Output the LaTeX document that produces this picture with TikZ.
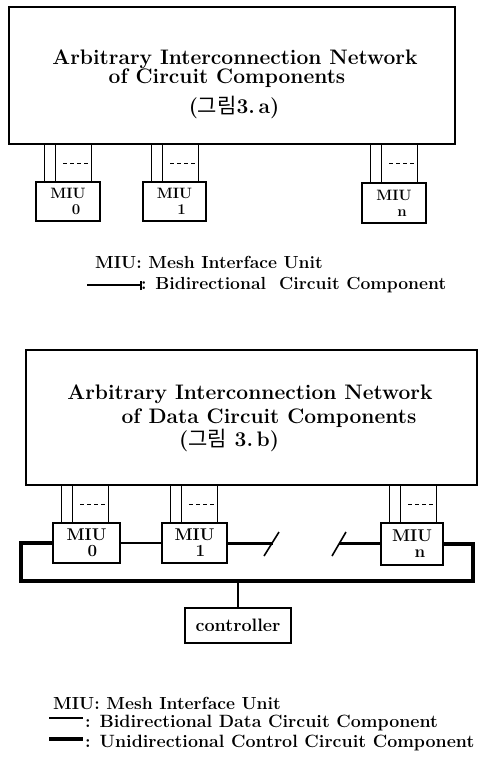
\documentclass[tikz,border=0pt]{standalone}
\usepackage{fontspec}
\usepackage{tikz}
\usetikzlibrary{calc,positioning}
\newfontfamily\cjk{Noto Sans CJK KR}

\begin{document}
\begin{tikzpicture}[x=1pt,y=-1pt,font=\bfseries,
  netbox/.style={draw,line width=1.3pt,inner sep=0pt},
  miubox/.style={draw,line width=1.1pt,inner sep=0pt,align=center},
  boxtext/.style={inner sep=0pt,font=\bfseries\fontsize{21}{23}\selectfont},
  legtext/.style={inner sep=0pt,anchor=west,font=\bfseries\fontsize{17.5}{20}\selectfont},
  link/.style={line width=1.1pt},
  ctrlline/.style={line width=4pt},
  dashline/.style={line width=1pt,dash pattern=on 4pt off 3pt}]
  \useasboundingbox (0,0) rectangle (485,760);
  % upper picture (3.a)
  \node[netbox,minimum width=446pt,minimum height=137pt] (neta) at (232,75.5) {};
  \node[boxtext] (ta1) at (235,59) {Arbitrary Interconnection Network};
  \node[boxtext] (ta2) at (227,78) {of Circuit Components};
  \node[boxtext] (ta3) at (234,107) {({\cjk\mdseries 그림}3.\,a)};
  \node[miubox,minimum width=64pt,minimum height=39pt,font=\bfseries\fontsize{15}{16}\selectfont]
      (miu0a) at (68,201.5) {MIU\\\hspace*{16pt}0};
  \node[miubox,minimum width=63pt,minimum height=39pt,font=\bfseries\fontsize{15}{16}\selectfont]
      (miu1a) at (174.5,201.5) {MIU\\\hspace*{14pt}1};
  \node[miubox,minimum width=64pt,minimum height=40pt,font=\bfseries\fontsize{15}{16}\selectfont]
      (miuna) at (394,203) {MIU\\\hspace*{16pt}n};
  % lower picture (3.b)
  \node[netbox,minimum width=451pt,minimum height=135pt] (netb) at (251.5,417.5) {};
  \node[boxtext] (tb1) at (250,394) {Arbitrary Interconnection Network};
  \node[boxtext] (tb2) at (269,418) {of Data Circuit Components};
  \node[boxtext] (tb3) at (229,440) {({\cjk\mdseries 그림} 3.\,b)};
  \node[miubox,minimum width=67pt,minimum height=40pt,font=\bfseries\fontsize{17}{16}\selectfont]
      (miu0b) at (86.5,543) {MIU\\\hspace*{12pt}0};
  \node[miubox,minimum width=65pt,minimum height=40pt,font=\bfseries\fontsize{17}{16}\selectfont]
      (miu1b) at (194.5,543) {MIU\\\hspace*{12pt}1};
  \node[miubox,minimum width=62pt,minimum height=42pt,font=\bfseries\fontsize{17}{16}\selectfont]
      (miunb) at (412,544) {MIU\\\hspace*{16pt}n};
  \node[miubox,minimum width=106pt,minimum height=35pt,font=\bfseries\fontsize{18}{20}\selectfont]
      (ctl) at (238,625.5) {controller};

  % MIU to network links
  \foreach \m/\net in {miu0a/neta,miu1a/neta,miuna/neta,miu0b/netb,miu1b/netb,miunb/netb}{
    \path (\m.north west) ++(9,0) coordinate (c1) ++(11,0) coordinate (c2) ++(36,0) coordinate (c3);
    \draw[link] (c1) -- (c1 |- \net.south) (c2) -- (c2 |- \net.south) (c3) -- (c3 |- \net.south);
    \draw[dashline] ($(c2)!.5!(c2 |- \net.south)$) ++(8,0) -- ++(26,0);
  }

  % control ring
  \coordinate (lb) at (21,581);
  \coordinate (rb) at (473,581);
  \coordinate (br1) at (273,543);
  \coordinate (br2) at (339,543);
  \draw[ctrlline] (miu0b.west) -| (lb) -- (rb) |- (miunb.east);
  \draw[line width=2.5pt] (miu0b) -- (miu1b);
  \draw[line width=3pt] (miu1b.east |- br1) -- (br1);
  \draw[line width=3pt] (br2) -- (miunb.west |- br2);
  \draw[line width=1.6pt] (264,556) -- (279,532);
  \draw[line width=1.6pt] (332,556) -- (346,532);
  \draw[link] (ctl.north) -- (ctl.north |- lb);

  % legends
  \node[legtext] (la1) at (95,262) {MIU: Mesh Interface Unit};
  \coordinate (ka) at (87,285);
  \coordinate (kb) at (141,285);
  \draw[line width=1.4pt] (ka) -- (kb);
  \draw[line width=1.2pt] ([yshift=-5pt]kb) -- ([yshift=4pt]kb);
  \node[legtext] (la2) at (141,285) {: Bidirectional\ \ Circuit Component};

  \node[legtext] (lb1) at (53,703) {MIU: Mesh Interface Unit};
  \coordinate (kc) at (49,718);
  \coordinate (kd) at (83,718);
  \draw[line width=1.1pt] (kc) -- (kd);
  \node[legtext,font=\bfseries\fontsize{17.8}{20}\selectfont] (lb2) at (85,723)
      {: Bidirectional Data Circuit Component};
  \coordinate (ke) at (49,739);
  \coordinate (kf) at (83,739);
  \draw[ctrlline] (ke) -- (kf);
  \node[legtext,font=\bfseries\fontsize{17.8}{20}\selectfont] (lb3) at (85,743)
      {: Unidirectional Control Circuit Component};
\end{tikzpicture}
\end{document}
